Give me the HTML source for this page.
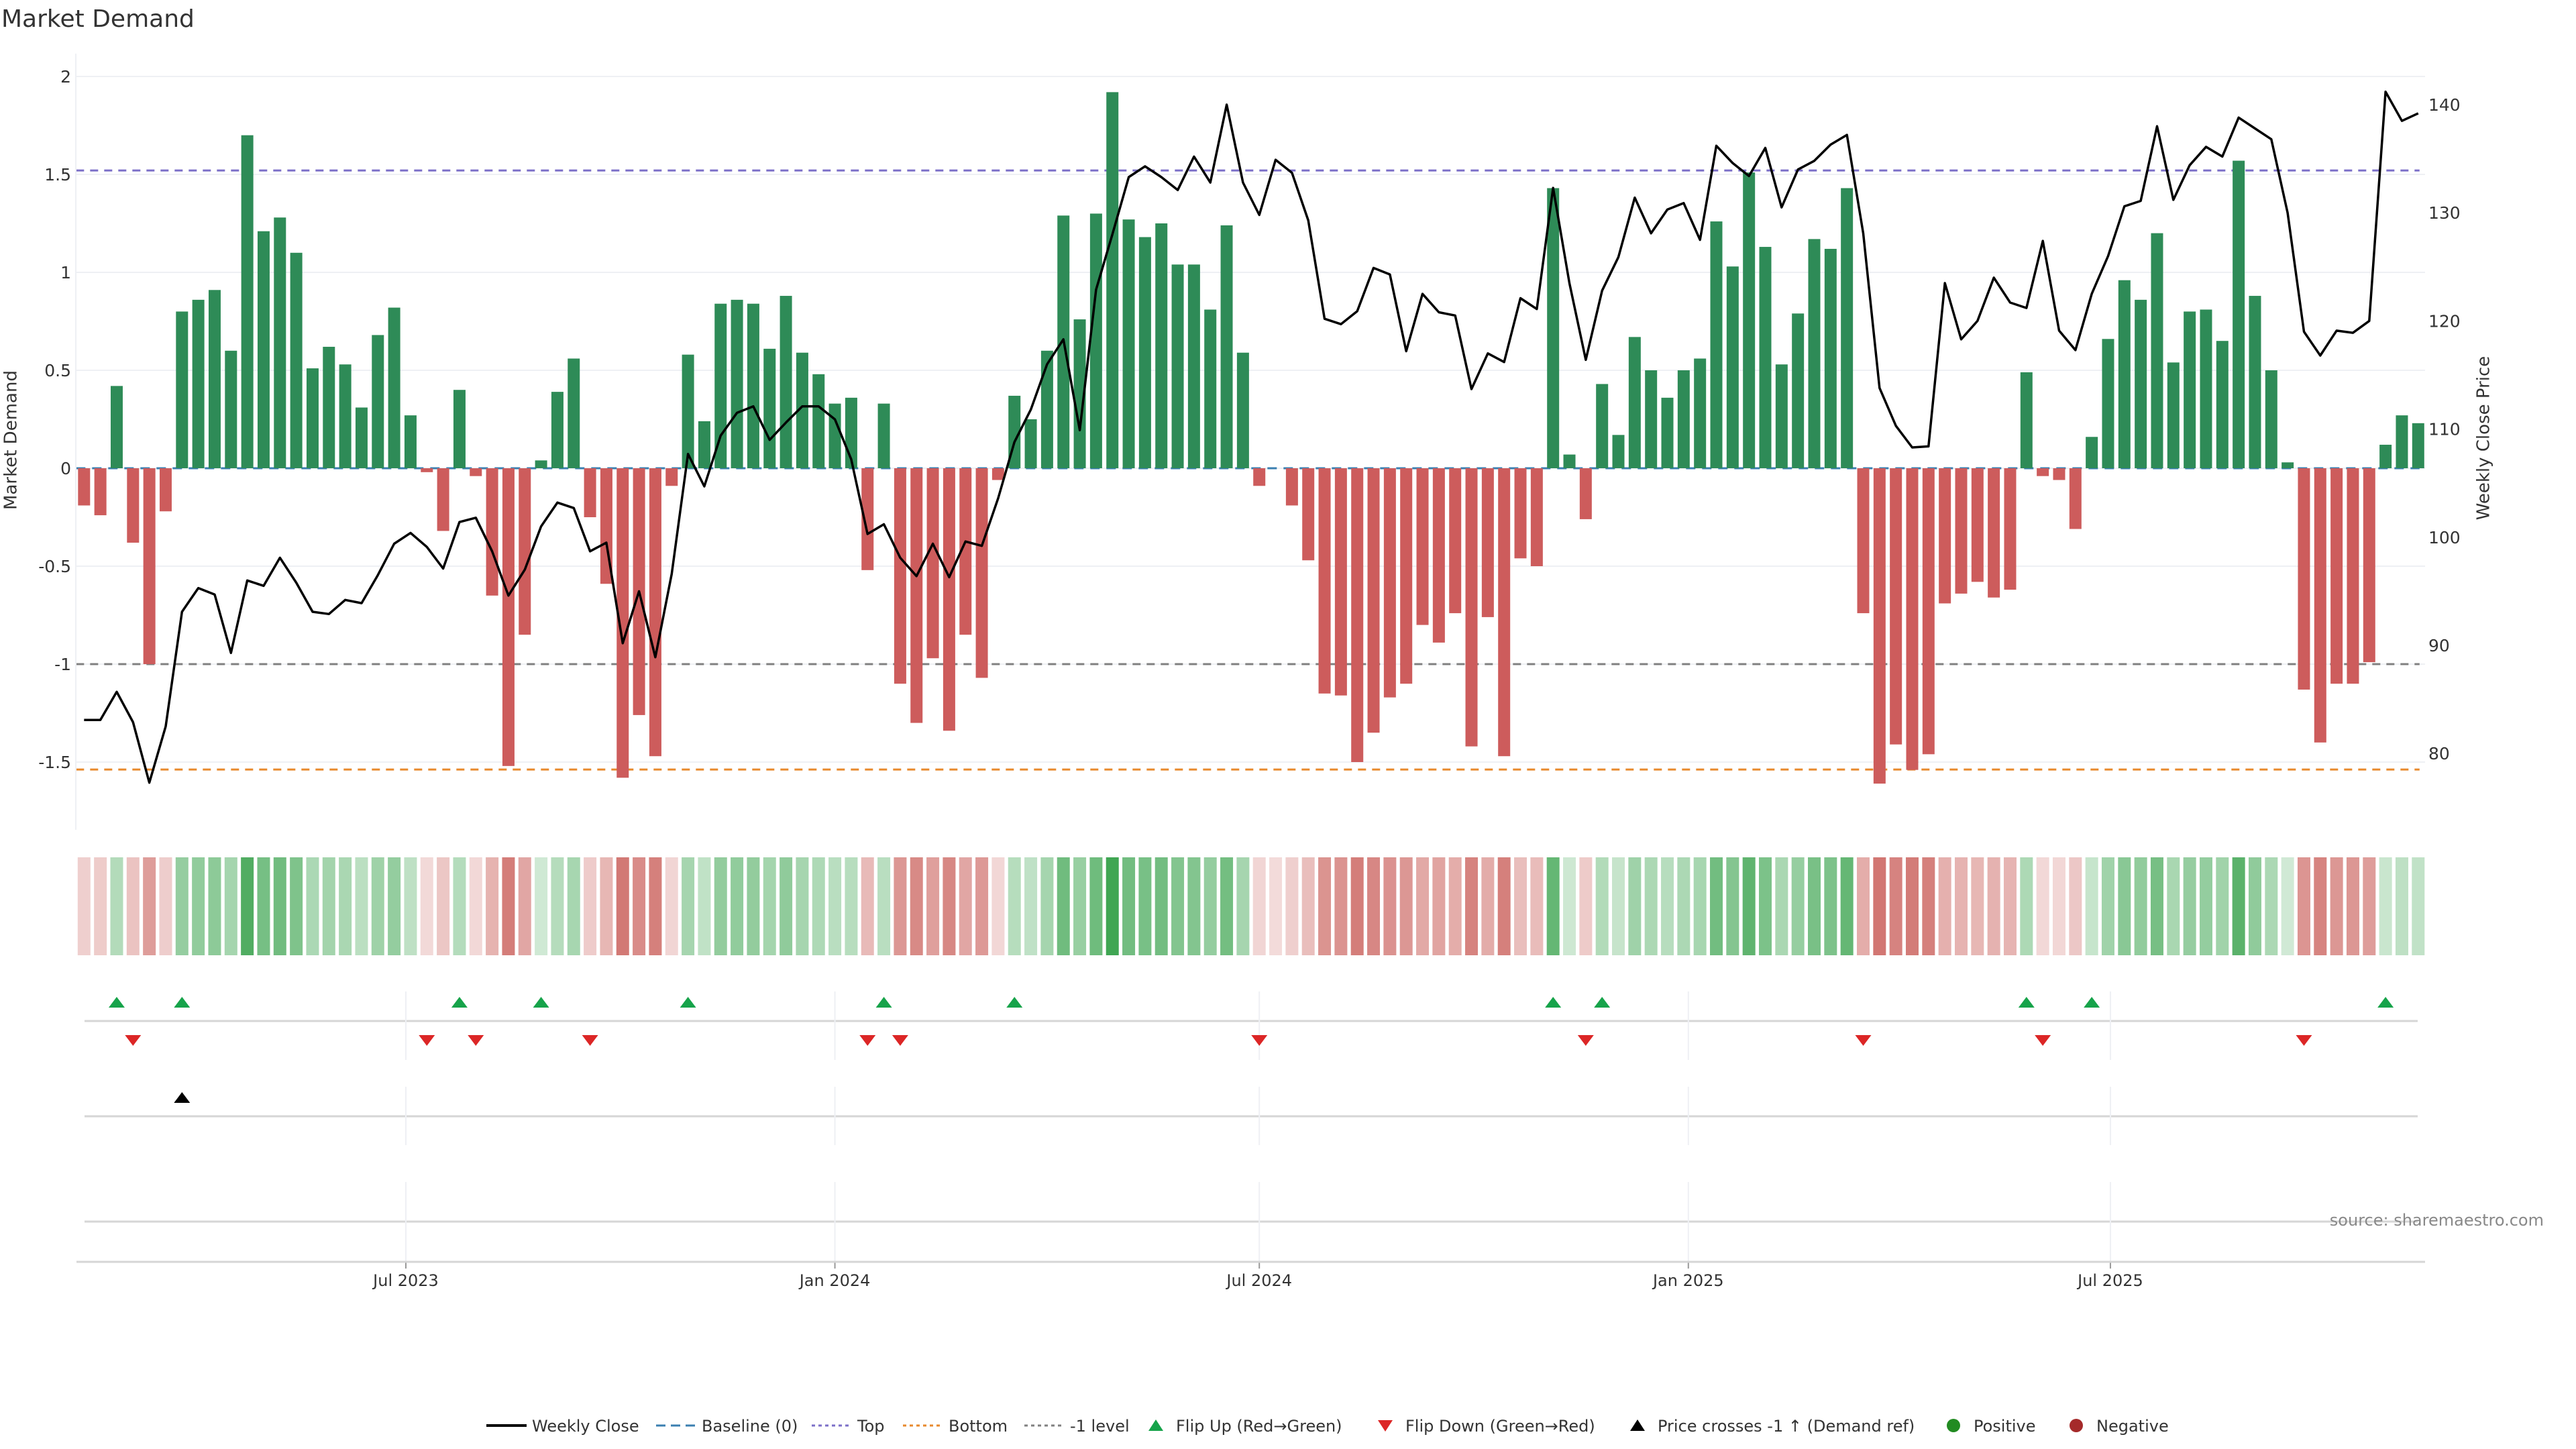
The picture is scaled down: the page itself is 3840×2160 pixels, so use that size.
<!DOCTYPE html>
<html><head><meta charset="utf-8"><title>Market Demand</title>
<style>
html,body{margin:0;padding:0;background:#fff;}
svg{display:block;font-family:"DejaVu Sans","Liberation Sans",sans-serif;}
</style></head>
<body>
<svg id="chart" xmlns="http://www.w3.org/2000/svg" width="3840" height="2160" viewBox="0 0 3840 2160">
<rect width="3840" height="2160" fill="#fff"/>
<text x="2" y="40" font-size="36" fill="#333">Market Demand</text>
<g id="grid"></g>
<g id="lowergrid"></g>
<g id="refs"></g>
<g id="bars"></g>
<g id="line"></g>
<g id="strip"></g>
<g id="marks"></g>
<g id="axes"></g>
<text x="17" y="656" font-size="26" fill="#333" text-anchor="middle" transform="rotate(-90 17 656)" dominant-baseline="middle">Market Demand</text>
<text x="3703" y="653" font-size="26" fill="#333" text-anchor="middle" transform="rotate(-90 3703 653)" dominant-baseline="middle">Weekly Close Price</text>
<text x="3792" y="1827" font-size="24" fill="#888" text-anchor="end">source: sharemaestro.com</text>
<g id="legend"></g>
</svg>
<script>
const demand=[-0.19,-0.24,0.42,-0.38,-1.00,-0.22,0.80,0.86,0.91,0.60,1.70,1.21,1.28,1.10,0.51,0.62,0.53,0.31,0.68,0.82,0.27,-0.02,-0.32,0.40,-0.04,-0.65,-1.52,-0.85,0.04,0.39,0.56,-0.25,-0.59,-1.58,-1.26,-1.47,-0.09,
0.58,0.24,0.84,0.86,0.84,0.61,0.88,0.59,0.48,0.33,0.36,-0.52,0.33,-1.10,-1.30,-0.97,-1.34,-0.85,-1.07,-0.06,0.37,0.25,0.60,1.29,0.76,1.30,1.92,1.27,1.18,1.25,1.04,1.04,0.81,1.24,0.59,-0.09,0,
-0.19,-0.47,-1.15,-1.16,-1.50,-1.35,-1.17,-1.10,-0.80,-0.89,-0.74,-1.42,-0.76,-1.47,-0.46,-0.50,1.43,0.07,-0.26,0.43,0.17,0.67,0.50,0.36,0.50,0.56,1.26,1.03,1.51,1.13,0.53,0.79,1.17,1.12,1.43,-0.74,-1.61,
-1.41,-1.54,-1.46,-0.69,-0.64,-0.58,-0.66,-0.62,0.49,-0.04,-0.06,-0.31,0.16,0.66,0.96,0.86,1.20,0.54,0.80,0.81,0.65,1.57,0.88,0.50,0.03,-1.13,-1.40,-1.10,-1.10,-0.99,0.12,0.27,0.23];
const price=[83.1,83.1,85.7,82.9,77.3,82.5,93.1,95.3,94.7,89.3,96.0,95.5,98.1,95.8,93.1,92.9,94.2,93.9,96.5,99.4,100.4,99.1,97.1,101.4,101.8,98.7,94.6,97.0,101.0,103.2,102.7,98.7,99.5,90.2,95.0,88.9,96.6,
107.7,104.7,109.4,111.5,112.1,109.0,110.6,112.1,112.1,110.9,107.2,100.3,101.2,98.1,96.4,99.4,96.3,99.6,99.2,103.6,108.8,111.8,116.0,118.3,109.9,122.9,128.0,133.3,134.3,133.3,132.1,135.2,132.8,140.0,132.8,129.8,134.9,
133.7,129.3,120.2,119.7,120.9,124.9,124.3,117.2,122.5,120.8,120.5,113.7,117.0,116.2,122.1,121.1,132.3,123.5,116.4,122.8,125.9,131.4,128.1,130.3,130.9,127.5,136.2,134.6,133.4,136.0,130.5,134.0,134.8,136.3,137.2,128.1,113.8,
110.3,108.3,108.4,123.5,118.3,120.0,124.0,121.7,121.2,127.4,119.1,117.3,122.5,126.0,130.6,131.1,138.0,131.2,134.4,136.1,135.2,138.8,137.8,136.8,130.0,119.0,116.8,119.1,118.9,120.0,141.2,138.5,139.2];
const startDate="2023-02-13";
const xTickDates=["2023-07-01","2024-01-01","2024-07-01","2025-01-01","2025-07-01"];
const xTickLabels=["Jul 2023","Jan 2024","Jul 2024","Jan 2025","Jul 2025"];
const yTicks=[-1.5,-1,-0.5,0,0.5,1,1.5,2];
const yTickLabels=["-1.5","-1","-0.5","0","0.5","1","1.5","2"];
const y2Ticks=[80,90,100,110,120,130,140];
const topLevel=1.52, bottomLevel=-1.538, minusLevel=-1;

const NS="http://www.w3.org/2000/svg";
function mk(tag,attrs,parent){const e=document.createElementNS(NS,tag);for(const k in attrs)e.setAttribute(k,attrs[k]);parent.appendChild(e);return e;}
const DAY=86400000, ref0=Date.UTC(2023,6,1);
function xDate(s){const p=s.split('-');const t=Date.UTC(+p[0],+p[1]-1,+p[2]);return 605+(t-ref0)/DAY*3.476;}
const sp=startDate.split('-');const start=Date.UTC(+sp[0],+sp[1]-1,+sp[2]);
function xi(i){return 605+((start+i*7*DAY)-ref0)/DAY*3.476;}
function yD(v){return 698-292*v;}
function yP(p){return 156+(140-p)*16.12;}
const L=113,R=3615;
const G=document.getElementById('grid'),LG=document.getElementById('lowergrid'),RF=document.getElementById('refs'),B=document.getElementById('bars'),LN=document.getElementById('line'),ST=document.getElementById('strip'),MK=document.getElementById('marks'),AX=document.getElementById('axes'),LEG=document.getElementById('legend');

yTicks.forEach((v,k)=>{
  const g=mk('line',{x1:L,x2:R,y1:yD(v),y2:yD(v),stroke:'#eef0f4','stroke-width':2},G);
  
  
  const t=mk('text',{x:106,y:yD(v)+9,'font-size':25,fill:'#333','text-anchor':'end'},AX);
  t.textContent=yTickLabels[k];
  
  
});
y2Ticks.forEach(p=>{
  const t=mk('text',{x:3620,y:yP(p)+9,'font-size':25,fill:'#333'},AX);
  t.textContent=String(p);
  
  
});
const la=mk('line',{x1:113,x2:113,y1:80,y2:1237,stroke:'#eef0f4','stroke-width':2},AX);



[1522,1664,1821].forEach(y=>{
  const l=mk('line',{x1:126,x2:3604,y1:y,y2:y,stroke:'#d6d6d6','stroke-width':3},LG);
  
  
});
xTickDates.forEach((d,k)=>{
  const x=xDate(d);
  [[1478,1580],[1620,1707],[1762,1881]].forEach(r=>{
    const l=mk('line',{x1:x,x2:x,y1:r[0],y2:r[1],stroke:'#eef0f4','stroke-width':2},LG);
    
    
  });
  const tk=mk('line',{x1:x,x2:x,y1:1881,y2:1891,stroke:'#999','stroke-width':2},AX);
  
  
  const t=mk('text',{x:x,y:1917,'font-size':24,fill:'#333','text-anchor':'middle'},AX);
  t.textContent=xTickLabels[k];
  
  
});
const xa=mk('line',{x1:114,x2:R,y1:1881,y2:1881,stroke:'#d6d6d6','stroke-width':3},AX);



const x0=xi(0)-12,x1=xi(demand.length-1)+2;
[[topLevel,'#7b6fc8','top-line'],[bottomLevel,'#e8892c','bottom-line'],[minusLevel,'#808080','minus-one-line']].forEach(r=>{
  const l=mk('line',{x1:x0,x2:x1,y1:yD(r[0]),y2:yD(r[0]),stroke:r[1],'stroke-width':3,'stroke-dasharray':'12 9'},RF);
  
  
});
const bl=mk('line',{x1:x0,x2:x1,y1:yD(0),y2:yD(0),stroke:'#3a7fb0','stroke-width':3,'stroke-dasharray':'14 10'},RF);



demand.forEach((v,i)=>{
  const x=xi(i), bw=18;
  if(v!==0){
    const r=mk('rect',{x:x-bw/2,y:Math.min(yD(0),yD(v)),width:bw,height:Math.abs(yD(v)-yD(0)),fill:v>0?'#2e8b57':'#cd5c5c'},B);
    
    
  }
  const a=0.22+0.75*Math.min(Math.abs(v)/2,1);
  const c=mk('rect',{x:x-9.5,y:1278,width:19,height:146,fill:v>0?'#34a048':'#c85a55','fill-opacity':a.toFixed(3)},ST);
  
  
});

const pts=price.map((p,i)=>xi(i).toFixed(1)+','+yP(p).toFixed(1)).join(' ');
const pl=mk('polyline',{points:pts,fill:'none',stroke:'#000','stroke-width':3.5,'stroke-linejoin':'round'},LN);



function tri(x,y,up,color,name){
  const p=up?`${x-12},${y+8} ${x+12},${y+8} ${x},${y-8}`:`${x-12},${y-8} ${x+12},${y-8} ${x},${y+8}`;
  const t=mk('polygon',{points:p,fill:color},MK);
  
  
}
let prev=0;
demand.forEach((v,i)=>{
  const s=v>0?1:(v<0?-1:0);
  if(s!==0){
    if(prev===-1&&s===1) tri(xi(i),1494,true,'#16a34a','flip-up-marker');
    if(prev===1&&s===-1) tri(xi(i),1551,false,'#dc2626','flip-down-marker');
    prev=s;
  }
});
const refPrice=140-(yD(minusLevel)-156)/16.12;
price.forEach((p,i)=>{
  if(i>0&&price[i-1]<refPrice&&p>=refPrice) tri(xi(i),1636,true,'#000','price-cross-marker');
});

const items=[
 {x:725,t:'line',c:'#000',label:'Weekly Close'},
 {x:978,t:'dash',c:'#3a7fb0',label:'Baseline (0)'},
 {x:1210,t:'dot',c:'#7b6fc8',label:'Top'},
 {x:1346,t:'dot',c:'#e8892c',label:'Bottom'},
 {x:1527,t:'dot',c:'#808080',label:'-1 level'},
 {x:1723,t:'up',c:'#16a34a',label:'Flip Up (Red\u2192Green)'},
 {x:2065,t:'down',c:'#dc2626',label:'Flip Down (Green\u2192Red)'},
 {x:2441,t:'up',c:'#000',label:'Price crosses -1 \u2191 (Demand ref)'},
 {x:2912,t:'circ',c:'#228b22',label:'Positive'},
 {x:3095,t:'circ',c:'#a52a2a',label:'Negative'}];
const ly=2147;
items.forEach(it=>{
  const g=mk('g',{},LEG);
  
  
  let tx;
  if(it.t==='line'||it.t==='dash'||it.t==='dot'){
    const da=it.t==='line'?'none':(it.t==='dash'?'14 8':'5 5');
    mk('line',{x1:it.x,x2:it.x+60,y1:ly,y2:ly,stroke:it.c,'stroke-width':it.t==='line'?4:3,'stroke-dasharray':da},g);
    tx=it.x+68;
  } else if(it.t==='up'){ mk('polygon',{points:`${it.x-11},${ly+8} ${it.x+11},${ly+8} ${it.x},${ly-9}`,fill:it.c},g); tx=it.x+30;}
  else if(it.t==='down'){ mk('polygon',{points:`${it.x-11},${ly-8} ${it.x+11},${ly-8} ${it.x},${ly+9}`,fill:it.c},g); tx=it.x+30;}
  else { mk('circle',{cx:it.x,cy:ly,r:10,fill:it.c},g); tx=it.x+30;}
  const t=mk('text',{x:tx,y:ly+9,'font-size':24,fill:'#333'},g);
  t.textContent=it.label;
});
LEG.setAttribute('transform','translate(0,-22)');
</script>
</body></html>
